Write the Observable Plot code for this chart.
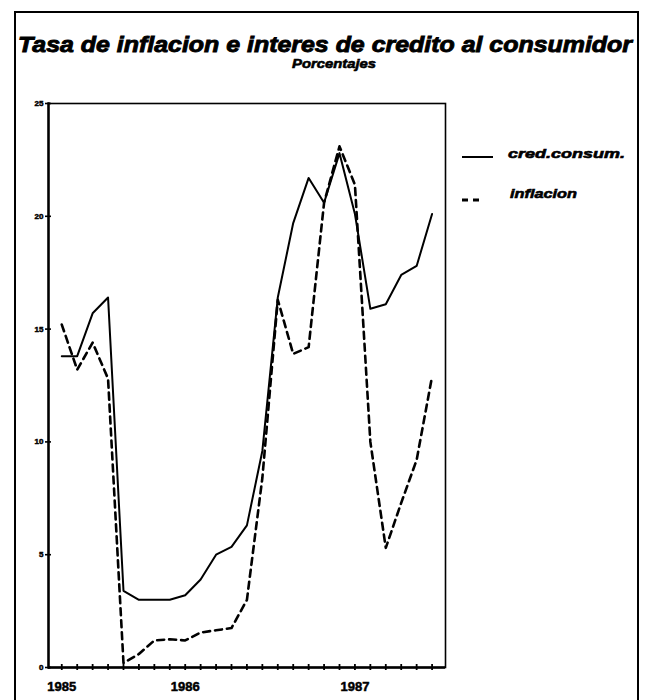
<!DOCTYPE html>
<html>
<head>
<meta charset="utf-8">
<script src="https://cdn.jsdelivr.net/npm/d3@7"></script>
<script src="https://cdn.jsdelivr.net/npm/@observablehq/plot@0.6"></script>
<style>
  html, body { margin: 0; padding: 0; background: #fff; }
  svg { display: block; }
</style>
</head>
<body>
<div id="chart"></div>
<script>
// ---- data ----
const periods = [0, 1, 2, 3, 4, 5, 6, 7, 8, 9, 10, 11, 12, 13, 14, 15, 16, 17, 18, 19, 20, 21, 22, 23, 24];
const credConsum = [13.8, 13.8, 15.7, 16.4, 3.4, 3.0, 3.0, 3.0, 3.2, 3.9, 5.0, 5.35, 6.3, 9.6, 16.4, 19.7, 21.7, 20.6, 22.8, 20.1, 15.9, 16.1, 17.4, 17.8, 20.1];
const inflacion = [15.2, 13.2, 14.4, 12.8, 0.2, 0.6, 1.2, 1.25, 1.2, 1.55, 1.65, 1.75, 3.0, 8.4, 16.3, 13.9, 14.2, 20.6, 23.1, 21.4, 10.0, 5.3, 7.3, 9.2, 12.9];
const yTicks = [0, 5, 10, 15, 20, 25];
const yearTickPeriods = [0, 8, 19];
const yearLabels = ["1985", "1986", "1987"];
const titleText = "Tasa de inflacion e interes de credito al consumidor";
const subtitleText = "Porcentajes";
const seriesNames = ["cred.consum.", "inflacion"];

const rows = periods.map((p, i) => ({p, cred: credConsum[i], infl: inflacion[i]}));
const font = "'Liberation Sans', Arial, Helvetica, sans-serif";

const chart = Plot.plot({
  width: 646,
  height: 700,
  marginLeft: 48,
  marginRight: 201,
  marginTop: 103,
  marginBottom: 33,
  x: {domain: [-0.86, 24.87], axis: null, label: null},
  y: {domain: [0, 25], axis: null, label: null},
  style: {fontFamily: font, background: "#fff", color: "#000"},
  marks: [
    Plot.frame({stroke: "#000", strokeWidth: 1.6}),
    Plot.frame({anchor: "left", stroke: "#000", strokeWidth: 2.4}),
    Plot.ruleY([0], {stroke: "#000", strokeWidth: 2.6}),
    // y tick marks crossing the axis
    Plot.axisY({ticks: yTicks, tickSize: 6, dx: 3, tickFormat: () => "", strokeWidth: 1.6, label: null}),
    // y tick labels
    Plot.axisY({ticks: yTicks, tickSize: 0, tickPadding: 5, fontSize: 8, fontWeight: "bold", tickFormat: d => String(d), label: null}),
    // x tick marks crossing the axis
    Plot.axisX({ticks: periods, tickSize: 6, dy: -3, tickFormat: () => "", strokeWidth: 1.8, label: null}),
    // year labels
    Plot.axisX({ticks: yearTickPeriods, tickSize: 0, tickPadding: 14, fontSize: 13, fontWeight: "bold",
      tickFormat: d => yearLabels[yearTickPeriods.indexOf(d)], label: null}),
    Plot.line(rows, {x: "p", y: "cred", stroke: "#000", strokeWidth: 2}),
    Plot.line(rows, {x: "p", y: "infl", stroke: "#000", strokeWidth: 2.6, strokeDasharray: "7,5"})
  ]
});

document.getElementById("chart").appendChild(chart);

// ---- title, subtitle, legend, outer frame ----
const svg = d3.select(chart);

// heavier lettering like the original
svg.selectAll("text").attr("stroke", "#000").attr("stroke-width", 0.5);

svg.append("rect")
  .attr("x", 15).attr("y", 12).attr("width", 623).attr("height", 690)
  .attr("fill", "none").attr("stroke", "#000").attr("stroke-width", 2);

function label(x, y, size, len, anchor, txt, sw) {
  svg.append("text")
    .attr("x", x).attr("y", y)
    .attr("text-anchor", anchor)
    .attr("font-family", font).attr("font-size", size)
    .attr("font-weight", "bold").attr("font-style", "italic")
    .attr("fill", "#000").attr("stroke", "#000").attr("stroke-width", sw)
    .attr("textLength", len).attr("lengthAdjust", "spacingAndGlyphs")
    .text(txt);
}

label(325, 52, 22, 614, "middle", titleText, 0.9);
label(334, 68, 13, 84, "middle", subtitleText, 0.6);

// legend
svg.append("line")
  .attr("x1", 462).attr("x2", 493).attr("y1", 157).attr("y2", 157)
  .attr("stroke", "#000").attr("stroke-width", 2);
label(508, 158, 13, 117, "start", seriesNames[0], 0.6);

svg.append("line")
  .attr("x1", 462).attr("x2", 481).attr("y1", 200).attr("y2", 200)
  .attr("stroke", "#000").attr("stroke-width", 3)
  .attr("stroke-dasharray", "6,5");
label(510, 198, 13, 67, "start", seriesNames[1], 0.6);
</script>
</body>
</html>
